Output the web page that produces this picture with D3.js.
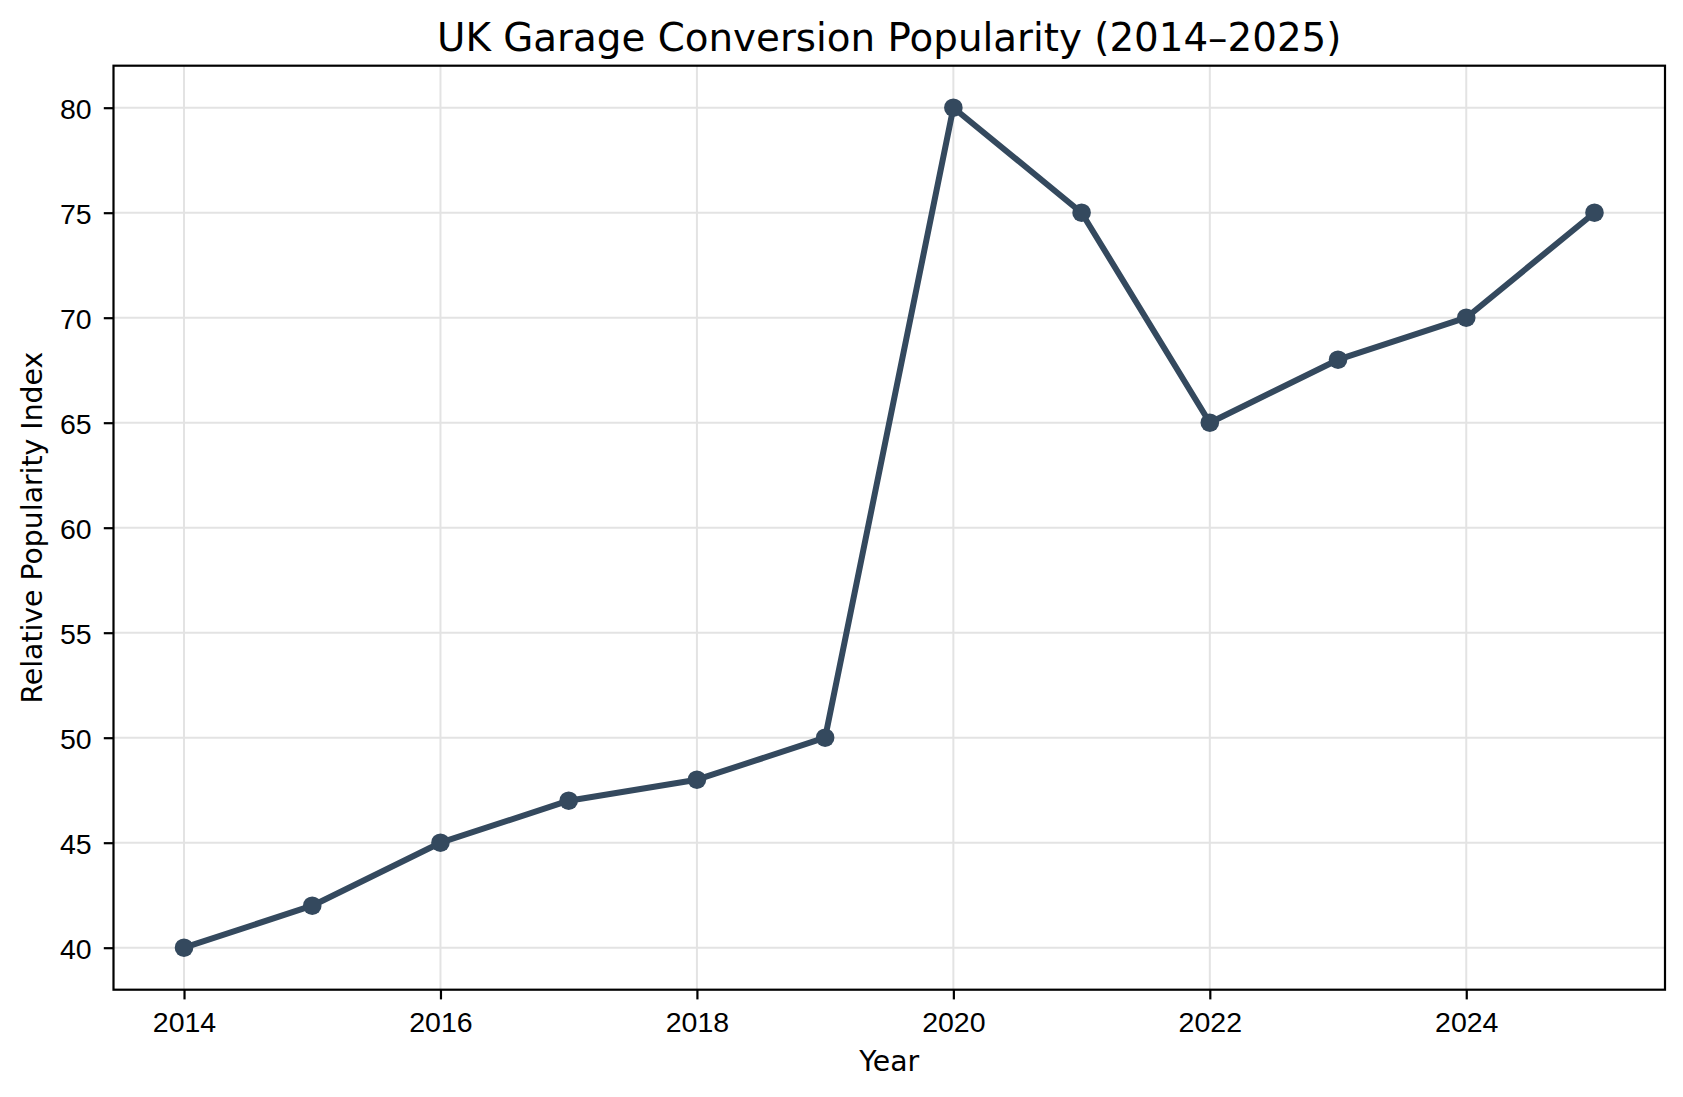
<!DOCTYPE html>
<meta charset="utf-8">
<head>
    <title>UK Garage Conversion Popularity</title>
    <style>
        html, body {
            margin: 0;
            padding: 0;
            background: #fff;
        }

        svg {
            display: block;
            font-family: "DejaVu Sans", sans-serif;
        }

        .grid line {
            stroke: #e3e3e3;
            stroke-width: 2;
        }

        .axis path {
            display: none;
        }

        .axis line {
            stroke: #000;
            stroke-width: 2.2;
        }

        .axis text {
            font-size: 28.5px;
            fill: #000;
        }

        .frame {
            fill: none;
            stroke: #000;
            stroke-width: 2.2;
        }

        .series path {
            fill: none;
            stroke: #34495e;
            stroke-width: 6;
            stroke-linejoin: round;
        }

        .series circle {
            fill: #34495e;
        }
    </style>
</head>
<body>
    <svg id="chart" width="1683" height="1097"></svg>
    <script src="https://cdn.jsdelivr.net/npm/d3@7"></script>
    <script>
        // values
        const years = [2014, 2015, 2016, 2017, 2018, 2019, 2020, 2021, 2022, 2023, 2024, 2025];
        const popularity = [40, 42, 45, 47, 48, 50, 80, 75, 65, 68, 70, 75];
        const xTicks = [2014, 2016, 2018, 2020, 2022, 2024];
        const yTicks = [40, 45, 50, 55, 60, 65, 70, 75, 80];

        const plot = {left: 113.5, right: 1665, top: 65.7, bottom: 989.7};

        let svg = d3.select('#chart');

        // matplotlib style 5% margins on both axes
        let xPad = (d3.max(years) - d3.min(years)) * 0.05;
        let yPad = (d3.max(popularity) - d3.min(popularity)) * 0.05;

        let x = d3.scaleLinear()
                    .domain([d3.min(years) - xPad, d3.max(years) + xPad])
                    .range([plot.left, plot.right]);

        let y = d3.scaleLinear()
                    .domain([d3.min(popularity) - yPad, d3.max(popularity) + yPad])
                    .range([plot.bottom, plot.top]);

        // grid
        let grid = svg.append('g').attr('class', 'grid');

        grid.selectAll('line.v')
            .data(xTicks)
            .enter()
            .append('line')
            .attr('class', 'v')
            .attr('x1', d => x(d))
            .attr('x2', d => x(d))
            .attr('y1', plot.top)
            .attr('y2', plot.bottom);

        grid.selectAll('line.h')
            .data(yTicks)
            .enter()
            .append('line')
            .attr('class', 'h')
            .attr('x1', plot.left)
            .attr('x2', plot.right)
            .attr('y1', d => y(d))
            .attr('y2', d => y(d));

        // axes
        svg.append('g')
            .attr('class', 'axis x')
            .attr('transform', 'translate(0,' + plot.bottom + ')')
            .call(d3.axisBottom(x)
                    .tickValues(xTicks)
                    .tickFormat(d3.format('d'))
                    .tickSizeInner(9.7)
                    .tickSizeOuter(0)
                    .tickPadding(12.5));

        svg.append('g')
            .attr('class', 'axis y')
            .attr('transform', 'translate(' + plot.left + ',0)')
            .call(d3.axisLeft(y)
                    .tickValues(yTicks)
                    .tickFormat(d3.format('d'))
                    .tickSizeInner(9.7)
                    .tickSizeOuter(0)
                    .tickPadding(12.1))
            .selectAll('text')
            .attr('dy', '0.38em');

        svg.selectAll('.axis text').attr('font-family', null);

        // series
        let line = d3.line()
                    .x((d, i) => x(years[i]))
                    .y(d => y(d));

        let series = svg.append('g').attr('class', 'series');

        series.append('path')
            .attr('d', line(popularity));

        series.selectAll('circle')
            .data(popularity)
            .enter()
            .append('circle')
            .attr('cx', (d, i) => x(years[i]))
            .attr('cy', d => y(d))
            .attr('r', 9.3);

        // frame on top
        svg.append('rect')
            .attr('class', 'frame')
            .attr('x', plot.left)
            .attr('y', plot.top)
            .attr('width', plot.right - plot.left)
            .attr('height', plot.bottom - plot.top);

        // labels
        svg.append('text')
            .attr('x', (plot.left + plot.right) / 2)
            .attr('y', 50.7)
            .attr('text-anchor', 'middle')
            .style('font-size', '38.8px')
            .text('UK Garage Conversion Popularity (2014–2025)');

        svg.append('text')
            .attr('x', (plot.left + plot.right) / 2)
            .attr('y', 1071)
            .attr('text-anchor', 'middle')
            .style('font-size', '28.3px')
            .text('Year');

        svg.append('text')
            .attr('transform', 'translate(41.7,' + (plot.top + plot.bottom) / 2 + ') rotate(-90)')
            .attr('text-anchor', 'middle')
            .style('font-size', '28.3px')
            .text('Relative Popularity Index');
    </script>
</body>
</html>
